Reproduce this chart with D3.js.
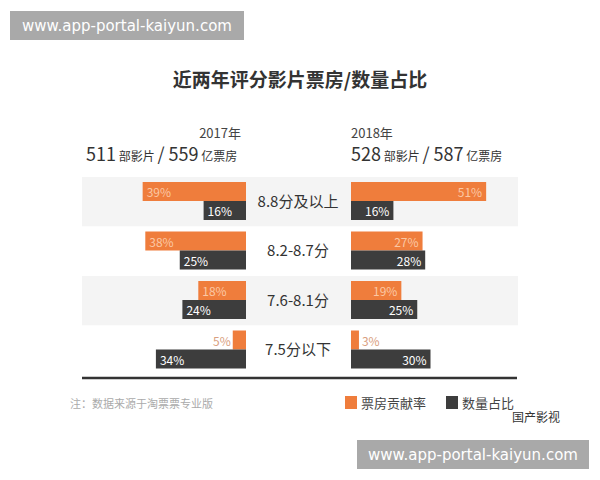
<!DOCTYPE html>
<html><head><meta charset="utf-8">
<script src="https://cdn.jsdelivr.net/npm/d3@7"></script>
<style>body{margin:0;background:#fff;font-family:"Noto Sans CJK SC","Noto Sans",sans-serif}</style>
</head><body><svg id="c" width="600" height="480"></svg>
<script>
const categories = ["8.8分及以上", "8.2-8.7分", "7.6-8.1分", "7.5分以下"];
const boxOffice2017 = [39, 38, 18, 5];
const share2017 = [16, 25, 24, 34];
const boxOffice2018 = [51, 27, 19, 3];
const share2018 = [16, 28, 25, 30];
const ORANGE = "#ef7d3c", DARK = "#3d3d3d";

const svg = d3.select("#c");
svg.append("rect").attr("x", 10).attr("y", 11).attr("width", 234).attr("height", 29).attr("fill", "#a9a9a9");
svg.append("text").attr("x", 127).attr("y", 31).attr("text-anchor", "middle").attr("fill", "#fff")
  .attr("font-size", 15).attr("font-family", "DejaVu Sans").text("www.app-portal-kaiyun.com");

svg.append("text").attr("x", 300).attr("y", 87).attr("text-anchor", "middle").attr("font-size", 19)
  .attr("font-weight", "bold").attr("fill", "#333").text("近两年评分影片票房/数量占比");

const y = d3.scaleBand().domain(categories).range([177, 375]);
const xL = d3.scaleLinear().domain([0, 100]).range([246, -19]);
const xR = d3.scaleLinear().domain([0, 100]).range([351, 616]);

// headers
svg.append("text").attr("x", 241).attr("y", 138).attr("text-anchor", "end").attr("font-size", 13).attr("fill", "#444").text("2017年");
svg.append("text").attr("x", 351).attr("y", 138).attr("font-size", 13).attr("fill", "#444").text("2018年");
function header(x, a, b) {
  const t = svg.append("text").attr("x", x).attr("y", 161).attr("fill", "#333");
  t.append("tspan").attr("font-size", 18).text(a);
  t.append("tspan").attr("font-size", 12).text(" 部影片 ");
  t.append("tspan").attr("font-size", 18).text("/ " + b);
  t.append("tspan").attr("font-size", 12).text(" 亿票房");
}
header(86, "511", "559");
header(351, "528", "587");

// bands
svg.selectAll(".band").data(categories).join("rect")
  .attr("x", 82).attr("width", 436).attr("y", d => y(d)).attr("height", y.bandwidth())
  .attr("fill", (d, i) => i % 2 === 0 ? "#f4f4f4" : "#fff");

svg.selectAll(".cat").data(categories).join("text")
  .attr("x", 298).attr("y", d => y(d) + y.bandwidth() / 2 + 5).attr("text-anchor", "middle")
  .attr("font-size", 15).attr("fill", "#333").text(d => d);

function panel(side, vals, color, offset, textColor) {
  const x = side === "L" ? xL : xR;
  const g = svg.append("g");
  const data = categories.map((c, i) => ({ c, v: vals[i] }));
  g.selectAll("rect").data(data).join("rect")
    .attr("x", d => side === "L" ? x(d.v) : x(0))
    .attr("width", d => Math.abs(x(d.v) - x(0)))
    .attr("y", d => y(d.c) + offset).attr("height", 19).attr("fill", color);
  g.selectAll("text").data(data).join("text")
    .attr("y", d => y(d.c) + offset + 15).attr("font-size", 12)
    .attr("x", d => {
      const small = d.v < 10;
      if (side === "L") return small ? x(d.v) - 2 : x(d.v) + 4;
      return small ? x(d.v) + 3 : x(d.v) - 4;
    })
    .attr("text-anchor", d => {
      const small = d.v < 10;
      if (side === "L") return small ? "end" : "start";
      return small ? "start" : "end";
    })
    .attr("fill", d => d.v < 10 ? "#d9a080" : textColor)
    .text(d => d.v + "%");
}
panel("L", boxOffice2017, ORANGE, 5, "#fbc8a4");
panel("L", share2017, DARK, 24, "#fff");
panel("R", boxOffice2018, ORANGE, 5, "#fbc8a4");
panel("R", share2018, DARK, 24, "#fff");

svg.append("line").attr("x1", 82).attr("x2", 517).attr("y1", 378).attr("y2", 378).attr("stroke", "#333").attr("stroke-width", 2.5);

svg.append("text").attr("x", 70).attr("y", 408).attr("font-size", 11).attr("fill", "#aaa").text("注：数据来源于淘票票专业版");
const legend = [["票房贡献率", ORANGE, 345], ["数量占比", DARK, 446]];
legend.forEach(([t, c, x]) => {
  svg.append("rect").attr("x", x).attr("y", 396).attr("width", 12).attr("height", 13).attr("fill", c);
  svg.append("text").attr("x", x + 16).attr("y", 408).attr("font-size", 13).attr("fill", "#444").text(t);
});
svg.append("text").attr("x", 512).attr("y", 422).attr("font-size", 12).attr("fill", "#333").text("国产影视");

svg.append("rect").attr("x", 357).attr("y", 440).attr("width", 232).attr("height", 29).attr("fill", "#a9a9a9");
svg.append("text").attr("x", 473).attr("y", 460).attr("text-anchor", "middle").attr("fill", "#fff")
  .attr("font-size", 15).attr("font-family", "DejaVu Sans").text("www.app-portal-kaiyun.com");
</script></body></html>
